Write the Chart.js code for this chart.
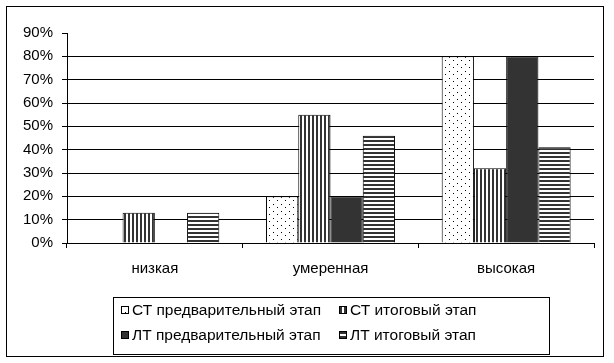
<!DOCTYPE html>
<html>
<head>
<meta charset="utf-8">
<script src="https://cdn.jsdelivr.net/npm/chart.js@4"></script>
<style>
  body { margin: 0; background: #fff; }
  #wrap { width: 614px; height: 363px; }
</style>
</head>
<body>
<div id="wrap"><canvas id="myChart" width="614" height="363"></canvas></div>
<script>
const categories = ['низкая', 'умеренная', 'высокая'];
const seriesNames = ['СТ предварительный этап', 'СТ итоговый этап', 'ЛТ предварительный этап', 'ЛТ итоговый этап'];
const ctPre = [0, 20, 80];
const ctFinal = [13, 55, 32];
const ltPre = [0, 20, 80];
const ltFinal = [13, 46, 41];
const yTicks = [0, 10, 20, 30, 40, 50, 60, 70, 80, 90];

const FONT = "'Liberation Sans', Arial, sans-serif";
const DARK = '#333333';

// small tiles for the hatch fills
const makeTile = (w, h, draw) => {
    const c = document.createElement('canvas');
    c.width = w; c.height = h;
    const t = c.getContext('2d');
    t.fillStyle = '#fff';
    t.fillRect(0, 0, w, h);
    draw(t);
    return c;
};

const ctx = document.getElementById('myChart').getContext('2d');

const dots = ctx.createPattern(makeTile(8, 7, t => {
    t.fillStyle = '#000';
    t.fillRect(1, 1, 1, 1);
    t.fillRect(5, 4, 1, 1);
}), 'repeat');
const vStripes = ctx.createPattern(makeTile(4, 4, t => {
    t.fillStyle = DARK;
    t.fillRect(0, 0, 2, 4);
}), 'repeat');
const hStripes = ctx.createPattern(makeTile(4, 4, t => {
    t.fillStyle = DARK;
    t.fillRect(0, 0, 4, 2);
}), 'repeat');

const fills = [dots, vStripes, DARK, hStripes];
const seriesData = [ctPre, ctFinal, ltPre, ltFinal];

// frame + legend box drawn by hand
const framePlugin = {
    id: 'frame',
    afterDraw(chart) {
        const c = chart.ctx;
        c.save();
        c.strokeStyle = '#000';
        c.lineWidth = 1;
        c.strokeRect(6.5, 6.5, 597, 350);
        c.strokeRect(113.5, 297.5, 436, 57);

        const items = [
            { x: 121, y: 310 }, { x: 339, y: 310 },
            { x: 121, y: 335 }, { x: 339, y: 335 }
        ];
        c.font = '15.5px ' + FONT;
        c.textBaseline = 'middle';
        items.forEach((it, i) => {
            c.fillStyle = fills[i];
            c.fillRect(it.x, it.y - 4, 8, 8);
            c.strokeStyle = '#000';
            c.strokeRect(it.x + 0.5, it.y - 3.5, 7, 7);
            c.fillStyle = '#000';
            c.fillText(seriesNames[i], it.x + 11, it.y + 1);
        });
        c.restore();
    }
};

new Chart(ctx, {
    type: 'bar',
    data: {
        labels: categories,
        datasets: seriesData.map((d, i) => ({
            label: seriesNames[i],
            data: d,
            backgroundColor: fills[i],
            borderColor: '#000',
            borderWidth: 1,
            categoryPercentage: 0.734,
            barPercentage: 1
        }))
    },
    options: {
        responsive: false,
        animation: false,
        events: [],
        layout: { padding: { left: 0, right: 20, top: 33, bottom: 0 } },
        plugins: { legend: { display: false }, tooltip: { enabled: false } },
        scales: {
            x: {
                afterFit: s => { s.height = 120; },
                grid: { offset: true, drawOnChartArea: false, tickColor: '#000', tickLength: 5 },
                border: { color: '#000', width: 1 },
                ticks: { color: '#000', font: { family: FONT, size: 15 }, padding: 12 }
            },
            y: {
                min: 0,
                max: 90,
                afterFit: s => { s.width = 67; },
                afterBuildTicks: s => { s.ticks = yTicks.map(v => ({ value: v })); },
                grid: {
                    color: c => (c.tick && c.tick.value > 0 && c.tick.value < 90) ? '#000' : 'rgba(0,0,0,0)',
                    tickColor: '#000',
                    tickLength: 5
                },
                border: { color: '#000', width: 1 },
                ticks: {
                    color: '#000',
                    font: { family: FONT, size: 15 },
                    padding: 9,
                    callback: v => v + '%'
                }
            }
        }
    },
    plugins: [framePlugin]
});
</script>
</body>
</html>
